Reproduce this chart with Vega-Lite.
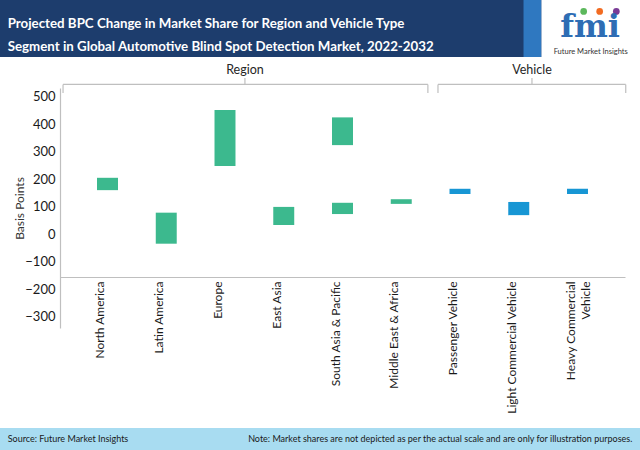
{
  "$schema": "https://vega.github.io/schema/vega-lite/v6.json",
  "padding": 0,
  "background": "white",
  "config": {"view": {"stroke": null}, "font": "Lato"},
  "datasets": {
    "bars": [
      {"category": "North America", "segment": "Region", "low": 160, "high": 205},
      {"category": "Latin America", "segment": "Region", "low": -35, "high": 78},
      {"category": "Europe", "segment": "Region", "low": 248, "high": 452},
      {"category": "East Asia", "segment": "Region", "low": 33, "high": 99},
      {"category": "South Asia & Pacific", "segment": "Region", "low": 324, "high": 425},
      {"category": "South Asia & Pacific", "segment": "Region", "low": 73, "high": 114},
      {"category": "Middle East & Africa", "segment": "Region", "low": 110, "high": 127},
      {"category": "Passenger Vehicle", "segment": "Vehicle", "low": 146, "high": 165},
      {"category": "Light Commercial Vehicle", "segment": "Vehicle", "low": 69, "high": 117},
      {"category": "Heavy Commercial Vehicle", "segment": "Vehicle", "low": 146, "high": 165}
    ],
    "brackets": [
      {"segment": "Region", "from": "North America", "to": "Middle East & Africa", "mid": "Europe"},
      {"segment": "Vehicle", "from": "Passenger Vehicle", "to": "Heavy Commercial Vehicle", "mid": "Light Commercial Vehicle"}
    ],
    "texts": [
      {
        "title": ["Projected BPC Change in Market Share for Region and Vehicle Type", "Segment in Global Automotive Blind Spot Detection Market, 2022-2032"],
        "logo": "fmi",
        "brand": "Future Market Insights",
        "source": "Source: Future Market Insights",
        "note": "Note: Market shares are not depicted as per the actual scale and are only for illustration purposes."
      }
    ]
  },
  "width": 565,
  "height": 240,
  "resolve": {"scale": {"x": "independent", "y": "independent"}},
  "layer": [
    {
      "layer": [
        {
          "data": {"name": "bars"},
          "mark": {"type": "bar"},
          "encoding": {
            "x": {
              "field": "category", "type": "nominal", "title": null,
              "scale": {"domain": ["North America", "Latin America", "Europe", "East Asia", "South Asia & Pacific", "Middle East & Africa", "Passenger Vehicle", "Light Commercial Vehicle", "Heavy Commercial Vehicle"], "paddingInner": 0.643, "paddingOuter": 0.63},
              "axis": {"orient": "bottom", "offset": -51, "labelAngle": -90, "labelAlign": "right", "labelBaseline": "top", "labelOffset": -12, "labelPadding": 4, "labelFontSize": 12, "labelColor": "#1a1a1a", "ticks": false, "grid": false, "domainColor": "#bfbfbf", "domainWidth": 1.2, "labelExpr": "datum.value == 'Heavy Commercial Vehicle' ? ['Heavy Commercial', 'Vehicle'] : datum.value", "labelLineHeight": 15, "labelOverlap": false, "labelBound": false, "labelFlush": false, "labelLimit": 300}
            },
            "y": {
              "field": "low", "type": "quantitative", "title": "Basis Points",
              "scale": {"domain": [-342, 532], "nice": false, "zero": false},
              "axis": {"values": [-300, -200, -100, 0, 100, 200, 300, 400, 500], "tickCount": 20, "labelOverlap": false, "grid": false, "ticks": false, "domainColor": "#bfbfbf", "domainWidth": 1.2, "labelFontSize": 13, "labelColor": "#1a1a1a", "labelPadding": 5, "titleFontSize": 12, "titleFontWeight": "normal", "titleColor": "#333333", "titlePadding": -2}
            },
            "y2": {"field": "high"},
            "color": {"field": "segment", "type": "nominal", "scale": {"domain": ["Region", "Vehicle"], "range": ["#3cb98e", "#1796d4"]}, "legend": null}
          }
        },
        {
          "data": {"name": "brackets"},
          "transform": [{"filter": "datum.segment === 'Region'"}],
          "layer": [
            {"mark": {"type": "rule", "color": "#bfbfbf", "strokeWidth": 1.2}, "encoding": {"x": {"field": "from", "type": "nominal", "bandPosition": -1.62, "title": null}, "x2": {"field": "to", "bandPosition": 1.77}, "y": {"datum": 545}}},
            {"mark": {"type": "rule", "color": "#bfbfbf", "strokeWidth": 1.2}, "encoding": {"x": {"field": "from", "type": "nominal", "bandPosition": -1.62, "title": null}, "y": {"datum": 545}, "y2": {"datum": 514}}},
            {"mark": {"type": "rule", "color": "#bfbfbf", "strokeWidth": 1.2}, "encoding": {"x": {"field": "to", "type": "nominal", "bandPosition": 1.77, "title": null}, "y": {"datum": 545}, "y2": {"datum": 514}}},
            {"mark": {"type": "rule", "color": "#bfbfbf", "strokeWidth": 1.2}, "encoding": {"x": {"field": "mid", "type": "nominal", "bandPosition": 1.45, "title": null}, "y": {"datum": 545}, "y2": {"datum": 568}}},
            {"mark": {"type": "text", "fontSize": 12.5, "color": "#262626", "baseline": "middle"}, "encoding": {"x": {"field": "mid", "type": "nominal", "bandPosition": 1.45, "title": null}, "y": {"datum": 597}, "text": {"field": "segment"}}}
          ]
        },
        {
          "data": {"name": "brackets"},
          "transform": [{"filter": "datum.segment === 'Vehicle'"}],
          "layer": [
            {"mark": {"type": "rule", "color": "#bfbfbf", "strokeWidth": 1.2}, "encoding": {"x": {"field": "from", "type": "nominal", "bandPosition": -0.55, "title": null}, "x2": {"field": "to", "bandPosition": 2.8}, "y": {"datum": 545}}},
            {"mark": {"type": "rule", "color": "#bfbfbf", "strokeWidth": 1.2}, "encoding": {"x": {"field": "from", "type": "nominal", "bandPosition": -0.55, "title": null}, "y": {"datum": 545}, "y2": {"datum": 514}}},
            {"mark": {"type": "rule", "color": "#bfbfbf", "strokeWidth": 1.2}, "encoding": {"x": {"field": "to", "type": "nominal", "bandPosition": 2.8, "title": null}, "y": {"datum": 545}, "y2": {"datum": 514}}},
            {"mark": {"type": "rule", "color": "#bfbfbf", "strokeWidth": 1.2}, "encoding": {"x": {"field": "mid", "type": "nominal", "bandPosition": 1.13, "title": null}, "y": {"datum": 545}, "y2": {"datum": 568}}},
            {"mark": {"type": "text", "fontSize": 12.5, "color": "#262626", "baseline": "middle"}, "encoding": {"x": {"field": "mid", "type": "nominal", "bandPosition": 1.13, "title": null}, "y": {"datum": 597}, "text": {"field": "segment"}}}
          ]
        }
      ]
    },
    {
      "data": {"name": "texts"},
      "layer": [
        {
          "mark": {"type": "rect", "color": "#1d3d6d"},
          "encoding": {
            "x": {"datum": 0, "type": "quantitative", "scale": {"domain": [0, 1], "range": [-60, 580]}, "axis": null},
            "x2": {"datum": 1},
            "y": {"datum": 0, "type": "quantitative", "scale": {"domain": [0, 1], "range": [-31, -88]}, "axis": null},
            "y2": {"datum": 1}
          }
        },
        {
          "mark": {"type": "rect", "color": "#2f78c0"},
          "encoding": {"x": {"datum": 0.818, "type": "quantitative"}, "x2": {"datum": 0.846}, "y": {"datum": 0, "type": "quantitative"}, "y2": {"datum": 1}}
        },
        {
          "mark": {"type": "rect", "color": "#ffffff"},
          "encoding": {"x": {"datum": 0.846, "type": "quantitative"}, "x2": {"datum": 1}, "y": {"datum": 0, "type": "quantitative"}, "y2": {"datum": 1}}
        },
        {
          "mark": {"type": "point", "filled": true, "size": 45, "opacity": 1, "color": "#5cb85c"},
          "encoding": {"x": {"datum": 0.912, "type": "quantitative"}, "y": {"datum": 0.8, "type": "quantitative"}}
        },
        {
          "mark": {"type": "point", "filled": true, "size": 45, "opacity": 1, "color": "#f26b21"},
          "encoding": {"x": {"datum": 0.937, "type": "quantitative"}, "y": {"datum": 0.8, "type": "quantitative"}}
        },
        {
          "mark": {"type": "point", "filled": true, "size": 45, "opacity": 1, "color": "#7a3b96"},
          "encoding": {"x": {"datum": 0.963, "type": "quantitative"}, "y": {"datum": 0.8, "type": "quantitative"}}
        },
        {
          "mark": {"type": "text", "font": "DejaVu Serif", "fontWeight": "bold", "fontSize": 32, "color": "#2e6db4", "align": "center", "baseline": "alphabetic"},
          "encoding": {"x": {"datum": 0.922, "type": "quantitative"}, "y": {"datum": 0.35, "type": "quantitative"}, "text": {"field": "logo"}}
        },
        {
          "mark": {"type": "text", "fontSize": 7.5, "color": "#333333", "align": "center", "baseline": "middle"},
          "encoding": {"x": {"datum": 0.923, "type": "quantitative"}, "y": {"datum": 0.09, "type": "quantitative"}, "text": {"field": "brand"}}
        },
        {
          "mark": {"type": "text", "fontWeight": "bold", "fontSize": 13.3, "lineHeight": 23, "color": "#ffffff", "align": "left", "baseline": "middle"},
          "encoding": {"x": {"datum": 0.012, "type": "quantitative"}, "y": {"datum": 0.58, "type": "quantitative"}, "text": {"field": "title"}}
        }
      ]
    },
    {
      "data": {"name": "texts"},
      "layer": [
        {
          "mark": {"type": "rect", "color": "#a8dcf1"},
          "encoding": {
            "x": {"datum": 0, "type": "quantitative", "scale": {"domain": [0, 1], "range": [-60, 580]}, "axis": null},
            "x2": {"datum": 1},
            "y": {"datum": 0, "type": "quantitative", "scale": {"domain": [0, 1], "range": [362, 340]}, "axis": null},
            "y2": {"datum": 1}
          }
        },
        {
          "mark": {"type": "text", "align": "left", "baseline": "middle", "fontSize": 9, "color": "#1a1a1a"},
          "encoding": {"x": {"datum": 0.012, "type": "quantitative"}, "y": {"datum": 0.5, "type": "quantitative"}, "text": {"field": "source"}}
        },
        {
          "mark": {"type": "text", "align": "right", "baseline": "middle", "fontSize": 9, "color": "#1a1a1a"},
          "encoding": {"x": {"datum": 0.988, "type": "quantitative"}, "y": {"datum": 0.5, "type": "quantitative"}, "text": {"field": "note"}}
        }
      ]
    }
  ]
}
